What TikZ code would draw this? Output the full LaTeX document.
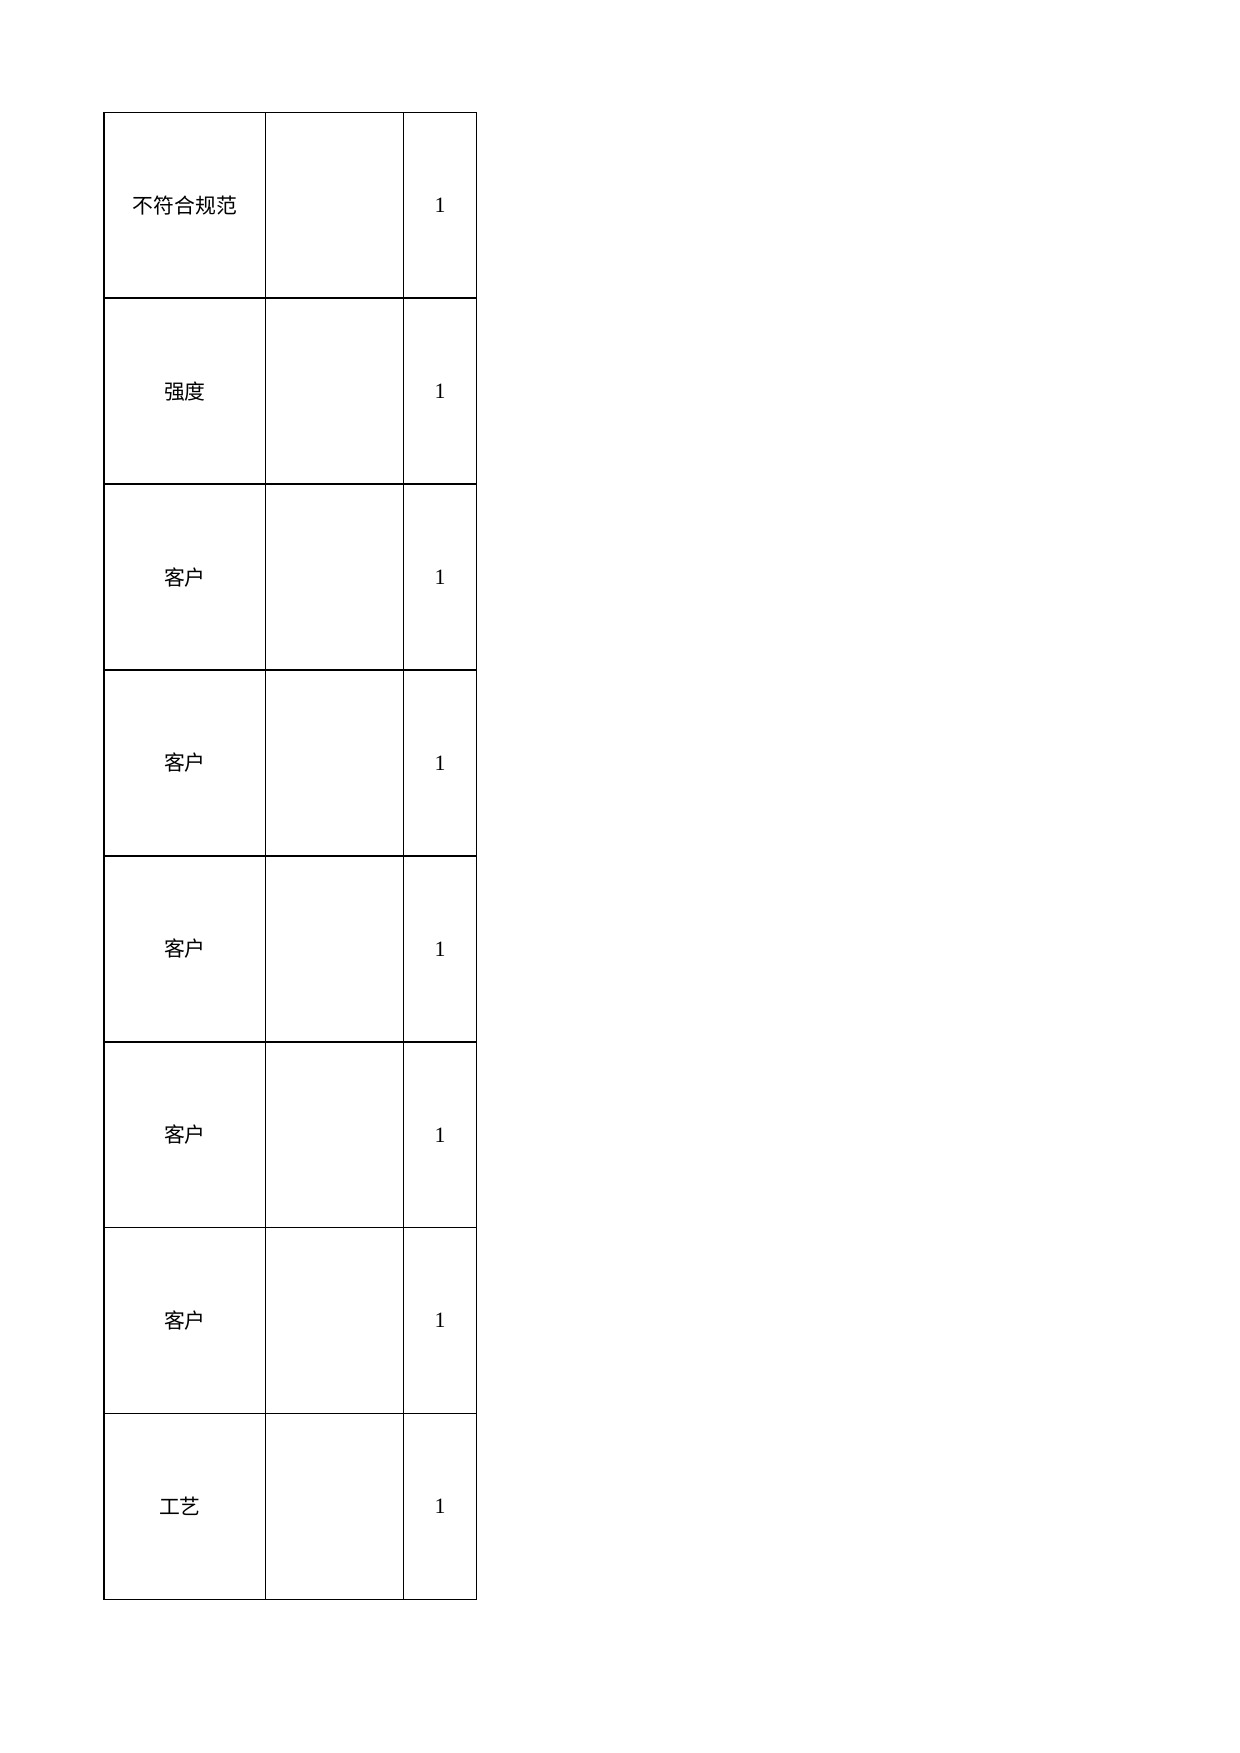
\documentclass[tikz,border=0pt]{standalone}
\usepackage{fontspec}
\setmainfont{Liberation Serif}
\newfontfamily\cjk{Noto Sans CJK SC}
\begin{document}
\begin{tikzpicture}[x=0.48pt,y=-0.48pt,
    grid/.style={line width=0.7pt},
    kindcell/.style={font=\cjk\fontsize{10}{12}\selectfont},
    qtycell/.style={font=\fontsize{10.5}{12}\selectfont}]
  \useasboundingbox (0,0) rectangle (1240,1753);
  % outer frame and columns
  \draw[grid] (104,112.3) rectangle (476.7,1599.3);
  \draw[grid] (265.7,112.3) -- (265.7,1599.3);
  \draw[grid] (403.3,112.3) -- (403.3,1599.3);
  \foreach \lab/\dx [count=\i from 0] in {不符合规范/0,强度/0,客户/0,客户/0,客户/0,客户/0,客户/0,工艺/-5}{
    \pgfmathsetmacro{\ry}{112.3+185.9*\i}
    \draw[grid] (104,\ry) -- (476.7,\ry);
    \node[kindcell] (kind\i) at (184.9+\dx,\ry+93) {\lab};
    \node[qtycell] (qty\i) at (440,\ry+93) {1};
  }
\end{tikzpicture}
\end{document}
